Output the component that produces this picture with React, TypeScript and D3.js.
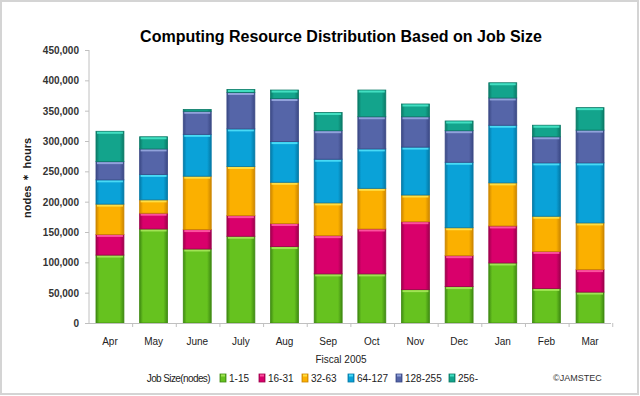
import React from 'react';
import * as d3 from 'd3';

const months = ['Apr', 'May', 'June', 'July', 'Aug', 'Sep', 'Oct', 'Nov', 'Dec', 'Jan', 'Feb', 'Mar'];
const jobSizes = ['1-15', '16-31', '32-63', '64-127', '128-255', '256-'];

// node*hours per month, thousands
const size1to15 = [112, 155, 122, 143, 126, 81, 81, 55, 60, 99, 57, 51];
const size16to31 = [34, 26, 32, 34, 38, 63, 74, 112, 51, 61, 61, 37];
const size32to63 = [50, 22, 88, 81, 68, 54, 67, 44, 46, 71, 58, 77];
const size64to127 = [40, 42, 69, 62, 67, 72, 65, 79, 108, 95, 88, 99];
const size128to255 = [30, 42, 38, 60, 71, 47, 53, 50, 52, 45, 43, 54];
const size256up = [50, 20, 3, 5, 14, 30, 44, 21, 16, 25, 19, 37];

const yTicks = [0, 50000, 100000, 150000, 200000, 250000, 300000, 350000, 400000, 450000];

const palette = [
  { base: '#66c21f', dark: '#3f8a12', light: '#a6e85a' },
  { base: '#d9006b', dark: '#9e004c', light: '#ff5aa4' },
  { base: '#fbb000', dark: '#cc8600', light: '#ffe34a' },
  { base: '#0aa2d8', dark: '#0479a6', light: '#4fe0f8' },
  { base: '#5565a8', dark: '#3b4985', light: '#98a8e0' },
  { base: '#13a48c', dark: '#0b7a67', light: '#48e6c8' },
];

const App = () => {
  const width = 640;
  const height = 396;
  const x0 = 89;
  const x1 = 611;
  const yTop = 50;
  const yBottom = 323;

  const series = [size1to15, size16to31, size32to63, size64to127, size128to255, size256up];
  const table = months.map((m, i) => {
    const row: any = { month: m };
    jobSizes.forEach((s, k) => (row[s] = series[k][i] * 1000));
    return row;
  });
  const stacked = d3.stack().keys(jobSizes)(table);

  const x = d3.scaleBand().domain(months).range([x0, x1]).paddingInner(0.36).paddingOuter(0.16);
  const y = d3.scaleLinear().domain([0, 450000]).range([yBottom, yTop]);
  const fmt = d3.format(',');
  const bandStep = x.step();
  const font = "'Liberation Sans', Arial, sans-serif";

  const seg = (k: number, sx: number, sy: number, w: number, h: number, key: string) => (
    <g key={key}>
      <rect x={sx} y={sy} width={w} height={h} fill={`url(#grad${k})`} stroke={palette[k].dark} strokeWidth={0.8} />
      {h > 3 && <rect x={sx + 1} y={sy + 0.5} width={w - 2} height={2} fill={palette[k].light} opacity={0.9} />}
    </g>
  );

  const legendPos = [220, 259, 302, 348, 396, 449];

  return (
    <svg width={width} height={height} style={{ position: 'absolute', left: 0, top: 0 }} fontFamily={font}>
      <defs>
        {palette.map((p, k) => (
          <linearGradient key={k} id={`grad${k}`} x1="0" x2="1" y1="0" y2="0">
            <stop offset="0" stopColor={p.dark} />
            <stop offset="0.12" stopColor={p.base} />
            <stop offset="0.85" stopColor={p.base} />
            <stop offset="1" stopColor={p.dark} />
          </linearGradient>
        ))}
      </defs>
      <rect x={1} y={1} width={width - 3} height={height - 3} fill="#fff" stroke="#d4d4d4" strokeWidth={2} />

      <text x={341} y={42} textAnchor="middle" fontSize={16} fontWeight="bold" fill="#000" fontFamily="Arial, 'Liberation Sans', sans-serif">
        Computing Resource Distribution Based on Job Size
      </text>

      {/* y axis */}
      <line x1={x0} x2={x0} y1={yTop} y2={yBottom} stroke="#c0c0c0" />
      {yTicks.map((t) => (
        <g key={t}>
          <line x1={x0 - 4} x2={x0} y1={y(t) + 0.5} y2={y(t) + 0.5} stroke="#c0c0c0" />
          <text x={79} y={y(t) + 4} textAnchor="end" fontSize={10} fontWeight="bold" fill="#333">
            {fmt(t)}
          </text>
        </g>
      ))}
      <text transform={`translate(31, 178) rotate(-90)`} textAnchor="middle" fontSize={11} fontWeight="bold" fill="#222">
        nodes ＊ hours
      </text>

      {/* bars */}
      {stacked.map((layer, k) =>
        layer.map((d, i) => {
          const sx = x(months[i]) as number;
          const top = y(d[1]);
          const h = y(d[0]) - top;
          return seg(k, sx, top, x.bandwidth(), h, `${k}-${i}`);
        })
      )}

      {/* x axis */}
      <line x1={x0} x2={x1} y1={yBottom + 0.5} y2={yBottom + 0.5} stroke="#c0c0c0" />
      {months.map((m, i) => (
        <line key={m} x1={x0 + bandStep * (i + 1)} x2={x0 + bandStep * (i + 1)} y1={yBottom} y2={yBottom + 4} stroke="#c0c0c0" />
      ))}
      {months.map((m) => (
        <text key={m} x={(x(m) as number) + x.bandwidth() / 2} y={345} textAnchor="middle" fontSize={10} fill="#222">
          {m}
        </text>
      ))}
      <text x={341} y={363} textAnchor="middle" fontSize={10} fill="#222">
        Fiscal 2005
      </text>

      {/* legend */}
      <text x={210} y={382} textAnchor="end" fontSize={10} fill="#222" letterSpacing={-0.6}>
        Job Size(nodes)
      </text>
      {jobSizes.map((s, k) => (
        <g key={s}>
          {seg(k, legendPos[k], 374, 6, 8, `l${k}`)}
          <text x={legendPos[k] + 9} y={382} fontSize={10} fill="#222">
            {s}
          </text>
        </g>
      ))}
      <text x={553} y={381} fontSize={9} fill="#333">
        ©JAMSTEC
      </text>
    </svg>
  );
};

export default App;
